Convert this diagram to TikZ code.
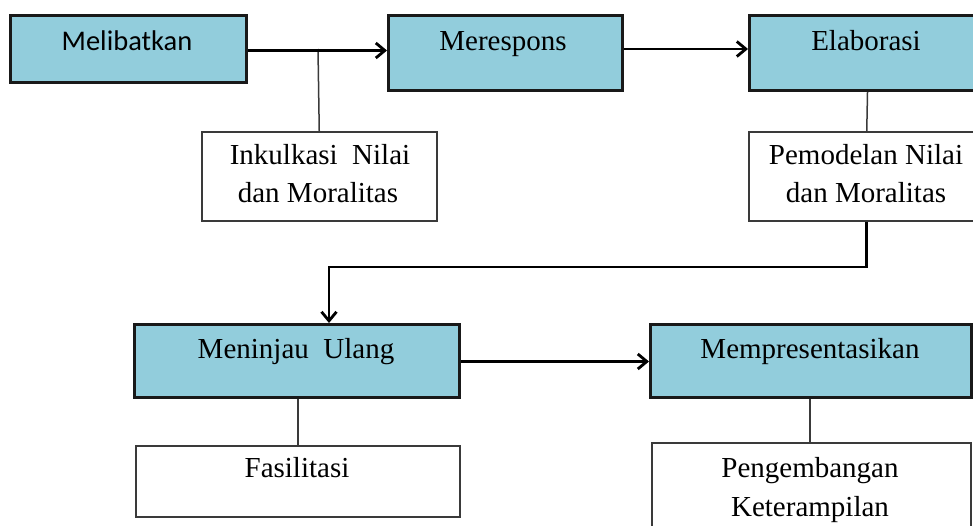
\documentclass[tikz,border=0pt]{standalone}
\usepackage{fontspec}
\setmainfont{Liberation Serif}
\newfontfamily\calib{Carlito}
\usetikzlibrary{arrows.meta}
\definecolor{boxblue}{HTML}{92CDDC}
\definecolor{edgegray}{HTML}{3A3A3A}
\tikzset{
  bluebox/.style={draw=black!90, line width=3pt, fill=boxblue, inner sep=0pt, anchor=north west, rectangle},
  whitebox/.style={draw=edgegray, line width=1.5pt, fill=white, inner sep=0pt, anchor=north west, rectangle},
  txt/.style={inner sep=0pt, anchor=base, font=\fontsize{29}{35}\selectfont},
  arr/.style={line width=2.8pt, black, -{Straight Barb[length=9pt,width=15pt]}},
  thinline/.style={line width=1.5pt, edgegray}
}
\begin{document}
\begin{tikzpicture}[x=1pt,y=-1pt]
\useasboundingbox (0,0) rectangle (973,525);
\clip (0,0) rectangle (973,525);
% top row
\node[bluebox, minimum width=236pt, minimum height=67pt] (mel) at (9,14) {};
\node[bluebox, minimum width=234pt, minimum height=75pt] (mer) at (387,14) {};
\node[bluebox, minimum width=236pt, minimum height=75pt] (ela) at (748,14) {};
\node[txt, font=\calib\fontsize{28.5}{34}\selectfont] (tmel) at (127,50) {Melibatkan};
\node[txt] (tmer) at (503,50) {Merespons};
\node[txt] (tela) at (866,50) {Elaborasi};
% white boxes top
\node[whitebox, minimum width=235pt, minimum height=89pt] (ink) at (201,131) {};
\node[txt] (tink1) at (320,164) {Inkulkasi\ \ Nilai};
\node[txt] (tink2) at (318,202) {dan Moralitas};
\node[whitebox, minimum width=236pt, minimum height=89pt] (pem) at (748,131) {};
\node[txt] (tpem1) at (866,164) {Pemodelan Nilai};
\node[txt] (tpem2) at (866,202) {dan Moralitas};
% bottom row
\node[bluebox, minimum width=325pt, minimum height=73pt] (mtu) at (133,323) {};
\node[bluebox, minimum width=321pt, minimum height=73pt] (mpr) at (649,323) {};
\node[txt] (tmtu) at (296,358) {Meninjau\ \ Ulang};
\node[txt] (tmpr) at (810,358) {Mempresentasikan};
\node[whitebox, minimum width=324pt, minimum height=71pt] (fas) at (135,445) {};
\node[txt] (tfas) at (297,477) {Fasilitasi};
\node[whitebox, minimum width=319pt, minimum height=110pt] (pen) at (651,442) {};
\node[txt] (tpen1) at (810,477) {Pengembangan};
\node[txt] (tpen2) at (810,516) {Keterampilan};
% connectors
\coordinate (j1) at (318,49);
\coordinate (c1) at (329,267);
\draw[thinline] (j1) -- (ink.north);
\draw[arr] ([yshift=-1.5pt]mel.east) -- ([yshift=-1.5pt]mel.east -| mer.west);
\draw[arr] ([yshift=4pt]mer.east) -- ([yshift=4pt]ela.west);
\draw[thinline] (ela.south) -- (pem.north);
\draw[arr] (pem.south) |- (c1) -- (c1 |- mtu.north);
\draw[arr] ([yshift=-0.5pt]mtu.east) -- ([yshift=-0.5pt]mpr.west);
\draw[thinline] (fas.north |- mtu.south) -- (fas.north);
\draw[thinline] (tpen1.base |- mpr.south) -- (tpen1.base |- pen.north);
\end{tikzpicture}
\end{document}
